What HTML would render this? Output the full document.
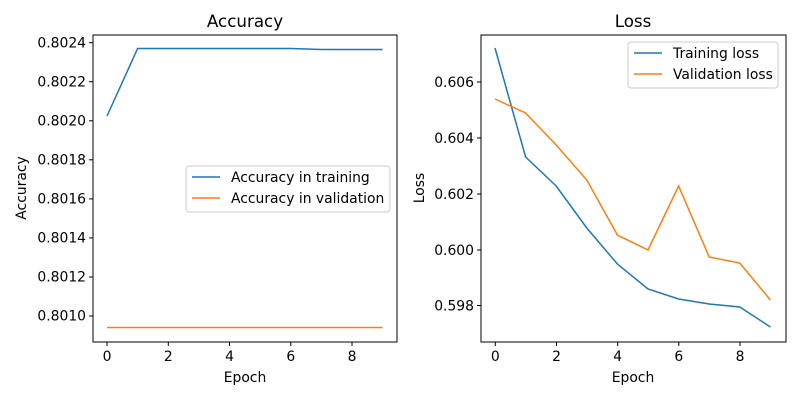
<!DOCTYPE html>
<html><head><style>body{margin:0;background:#fff}</style></head><body>
<svg width="800" height="400" xmlns="http://www.w3.org/2000/svg" font-family="DejaVu Sans, Liberation Sans, sans-serif" font-size="13.9">
<rect width="800" height="400" fill="#fff"/>
<!-- Left -->
<text x="245" y="27" text-anchor="middle" font-size="16.7">Accuracy</text>
<g stroke="#000" stroke-width="1">
<line x1="107" y1="342" x2="107" y2="346"/><line x1="168.3" y1="342" x2="168.3" y2="346"/><line x1="229.5" y1="342" x2="229.5" y2="346"/><line x1="290.8" y1="342" x2="290.8" y2="346"/><line x1="352" y1="342" x2="352" y2="346"/>
<line x1="89" y1="42.7" x2="93" y2="42.7"/><line x1="89" y1="81.7" x2="93" y2="81.7"/><line x1="89" y1="120.8" x2="93" y2="120.8"/><line x1="89" y1="159.8" x2="93" y2="159.8"/><line x1="89" y1="198.9" x2="93" y2="198.9"/><line x1="89" y1="237.9" x2="93" y2="237.9"/><line x1="89" y1="277" x2="93" y2="277"/><line x1="89" y1="316" x2="93" y2="316"/>
</g>
<g text-anchor="middle">
<text x="107" y="361">0</text><text x="168.3" y="361">2</text><text x="229.5" y="361">4</text><text x="290.8" y="361">6</text><text x="352" y="361">8</text>
<text x="245" y="382">Epoch</text>
</g>
<g text-anchor="end">
<text x="86" y="47.7">0.8024</text><text x="86" y="86.7">0.8022</text><text x="86" y="125.7">0.8020</text><text x="86" y="164.7">0.8018</text><text x="86" y="203.7">0.8016</text><text x="86" y="242.7">0.8014</text><text x="86" y="281.7">0.8012</text><text x="86" y="320.7">0.8010</text>
</g>
<text transform="translate(26,188) rotate(-90)" text-anchor="middle">Accuracy</text>
<polyline fill="none" stroke="#1f77b4" stroke-width="1.5" points="107,116 137.6,48.5 168.3,48.5 198.9,48.5 229.5,48.5 260.1,48.5 290.8,48.5 321.4,49.5 352,49.5 382.6,49.5"/>
<polyline fill="none" stroke="#ff7f0e" stroke-width="1.5" points="107,327.5 382.6,327.5"/>
<rect x="93" y="35" width="304" height="307" fill="none" stroke="#000"/>
<rect x="186" y="166" width="204" height="46" rx="3" fill="#fff" stroke="#ccc"/>
<line x1="192" y1="177" x2="220" y2="177" stroke="#1f77b4" stroke-width="1.5"/>
<line x1="192" y1="198" x2="220" y2="198" stroke="#ff7f0e" stroke-width="1.5"/>
<text x="231" y="182">Accuracy in training</text>
<text x="231" y="203">Accuracy in validation</text>
<!-- Right -->
<text x="633" y="27" text-anchor="middle" font-size="16.7">Loss</text>
<g stroke="#000" stroke-width="1">
<line x1="495.3" y1="342" x2="495.3" y2="346"/><line x1="556.5" y1="342" x2="556.5" y2="346"/><line x1="617.7" y1="342" x2="617.7" y2="346"/><line x1="678.8" y1="342" x2="678.8" y2="346"/><line x1="740" y1="342" x2="740" y2="346"/>
<line x1="477" y1="82" x2="481" y2="82"/><line x1="477" y1="138" x2="481" y2="138"/><line x1="477" y1="194" x2="481" y2="194"/><line x1="477" y1="250" x2="481" y2="250"/><line x1="477" y1="305.5" x2="481" y2="305.5"/>
</g>
<g text-anchor="middle">
<text x="495.3" y="361">0</text><text x="556.5" y="361">2</text><text x="617.7" y="361">4</text><text x="678.8" y="361">6</text><text x="740" y="361">8</text>
<text x="633" y="382">Epoch</text>
</g>
<g text-anchor="end">
<text x="474" y="87">0.606</text><text x="474" y="143">0.604</text><text x="474" y="199">0.602</text><text x="474" y="255">0.600</text><text x="474" y="310.5">0.598</text>
</g>
<text transform="translate(424,188) rotate(-90)" text-anchor="middle">Loss</text>
<polyline fill="none" stroke="#1f77b4" stroke-width="1.5" points="495,48 525.6,157 556.2,186 586.8,228 617.4,264 648,289 678.6,299 709.2,304 739.8,307 770.4,327"/>
<polyline fill="none" stroke="#ff7f0e" stroke-width="1.5" points="495,99 525.6,113 556.2,145 586.8,180 617.4,235 648,250 678.6,186 709.2,257 739.8,263 770.4,300"/>
<rect x="481" y="35" width="305" height="307" fill="none" stroke="#000"/>
<rect x="628" y="42" width="150" height="46" rx="3" fill="#fff" stroke="#ccc"/>
<line x1="634" y1="53" x2="662" y2="53" stroke="#1f77b4" stroke-width="1.5"/>
<line x1="634" y1="74" x2="662" y2="74" stroke="#ff7f0e" stroke-width="1.5"/>
<text x="673" y="58">Training loss</text>
<text x="673" y="79">Validation loss</text>
</svg>
</body></html>
